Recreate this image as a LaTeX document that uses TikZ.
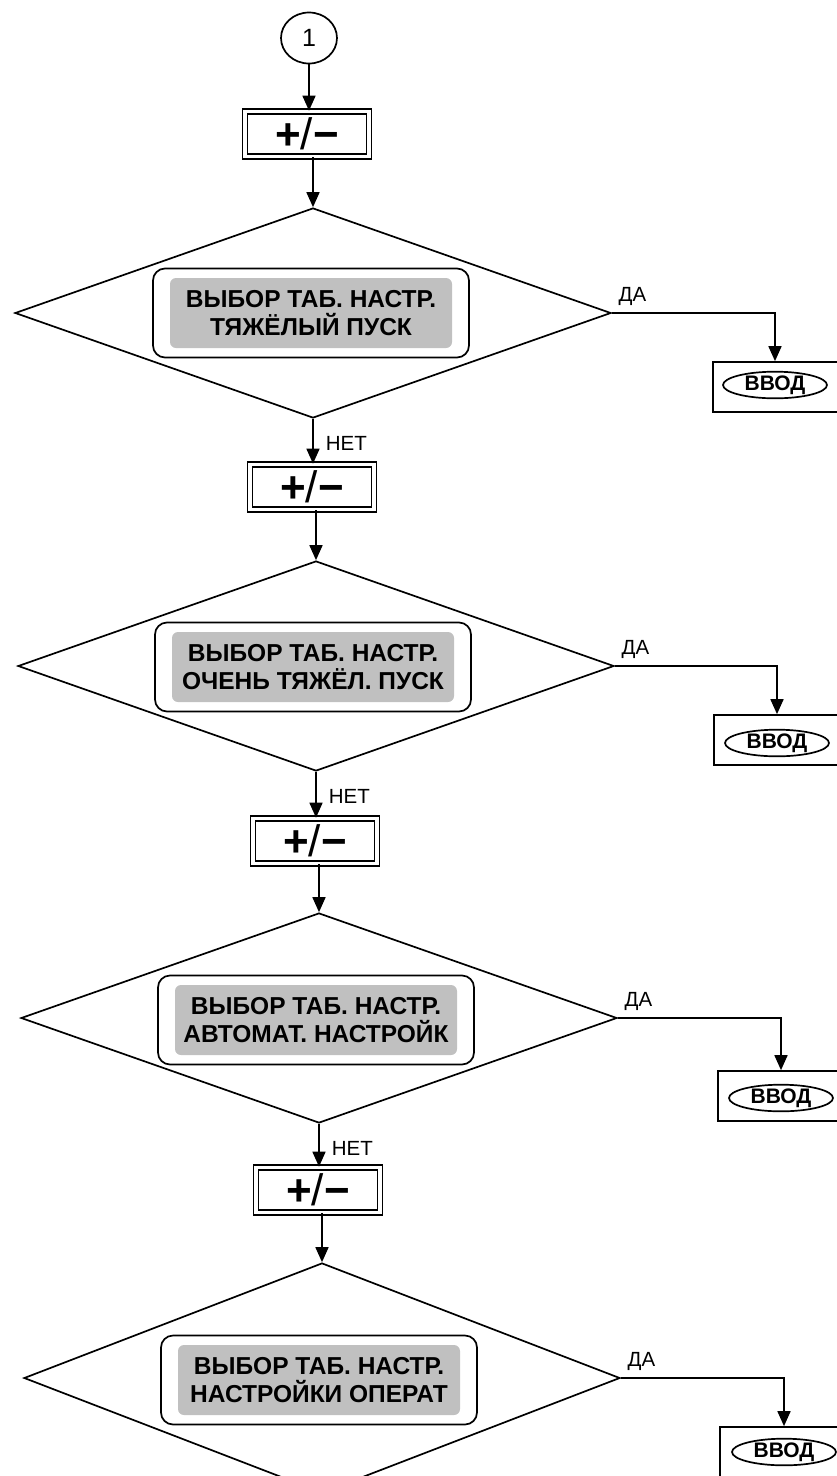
\documentclass[tikz,border=0pt]{standalone}
\usepackage{fontspec}
\setmainfont{Liberation Sans}
\usetikzlibrary{arrows.meta,shapes.geometric}

\definecolor{lcdgray}{RGB}{192,192,192}
\newcommand{\pmkey}{+{\mdseries/}−}

\begin{document}
\begin{tikzpicture}[x=1pt,y=-1pt,line width=1.7pt,
  >={Triangle[length=15pt,width=13pt]},
  conn/.style={draw,ellipse,minimum width=56pt,minimum height=51pt,inner sep=0pt,
    font=\fontsize{25}{25}\selectfont},
  key/.style={draw,double,double distance=3.5pt,minimum width=124pt,minimum height=45pt,
    inner sep=0pt,font=\bfseries\fontsize{44}{44}\selectfont},
  dec/.style={draw,diamond,minimum width=596pt,minimum height=210pt,inner sep=0pt},
  menu/.style={draw,rounded corners=12pt,minimum width=316pt,minimum height=89pt},
  lcd/.style={fill=lcdgray,rounded corners=6pt,minimum width=282pt,minimum height=70pt,
    align=center,inner sep=0pt,font=\bfseries\fontsize{24.5}{28}\selectfont},
  enter/.style={draw,minimum width=150pt,minimum height=50pt,anchor=west},
  btn/.style={draw,ellipse,minimum width=104pt,minimum height=20pt,inner sep=0pt,
    font=\bfseries\fontsize{21}{21}\selectfont},
  lbl/.style={inner sep=0pt,anchor=base west,font=\fontsize{20.5}{20.5}\selectfont}]
\useasboundingbox (0,0) rectangle (837,1476);
\clip (0,0) rectangle (837,1476);

% start
\node[conn] (c1) at (309,38) {1};

% step 1
\node[key]  (k1) at (307,134) {\pmkey};
\node[dec]  (d1) at (313,313) {};
\node[menu] (m1) at (311,313) {};
\node[lcd]  (l1) at (311,313) {ВЫБОР ТАБ. НАСТР.\\ТЯЖЁЛЫЙ ПУСК};
\node[enter] (e1) at (712,387) {};
\node[btn]  (b1) at (775,385) {ВВОД};
\node[lbl]  (y1) at ([xshift=6pt,yshift=12pt]d1.east) {ДА};
\node[lbl]  (n1) at ([xshift=12pt,yshift=-32pt]d1.south) {НЕТ};

% step 2
\node[key]  (k2) at (312,487) {\pmkey};
\node[dec]  (d2) at (316,666) {};
\node[menu] (m2) at (313,667) {};
\node[lcd]  (l2) at (313,667) {ВЫБОР ТАБ. НАСТР.\\ОЧЕНЬ ТЯЖЁЛ. ПУСК};
\node[enter] (e2) at (713,740) {};
\node[btn]  (b2) at (777,743) {ВВОД};
\node[lbl]  (y2) at ([xshift=6pt,yshift=12pt]d2.east) {ДА};
\node[lbl]  (n2) at ([xshift=12pt,yshift=-32pt]d2.south) {НЕТ};

% step 3
\node[key]  (k3) at (315,841) {\pmkey};
\node[dec]  (d3) at (319,1018) {};
\node[menu] (m3) at (316,1020) {};
\node[lcd]  (l3) at (316,1020) {ВЫБОР ТАБ. НАСТР.\\АВТОМАТ. НАСТРОЙК};
\node[enter] (e3) at (717,1096) {};
\node[btn]  (b3) at (781,1098) {ВВОД};
\node[lbl]  (y3) at ([xshift=6pt,yshift=12pt]d3.east) {ДА};
\node[lbl]  (n3) at ([xshift=12pt,yshift=-32pt]d3.south) {НЕТ};

% step 4
\node[key]  (k4) at (318,1190) {\pmkey};
\node[dec,minimum height=230pt] (d4) at (322,1378) {};
\node[menu] (m4) at (319,1380) {};
\node[lcd]  (l4) at (319,1380) {ВЫБОР ТАБ. НАСТР.\\НАСТРОЙКИ ОПЕРАТ};
\node[enter] (e4) at (719,1452) {};
\node[btn]  (b4) at (784,1452) {ВВОД};
\node[lbl]  (y4) at ([xshift=6pt,yshift=12pt]d4.east) {ДА};

\draw[->] (c1) -- (c1 |- k1.north);
\draw[->] (d1.north |- k1.south) -- (d1.north);
\draw[->] (d1.east) -| (b1 |- e1.north);
\draw[->] (d1.south) -- (d1.south |- k2.north);
\draw[->] (d2.north |- k2.south) -- (d2.north);
\draw[->] (d2.east) -| (b2 |- e2.north);
\draw[->] (d2.south) -- (d2.south |- k3.north);
\draw[->] (d3.north |- k3.south) -- (d3.north);
\draw[->] (d3.east) -| (b3 |- e3.north);
\draw[->] (d3.south) -- (d3.south |- k4.north);
\draw[->] (d4.north |- k4.south) -- (d4.north);
\draw[->] (d4.east) -| (b4 |- e4.north);
\end{tikzpicture}
\end{document}
